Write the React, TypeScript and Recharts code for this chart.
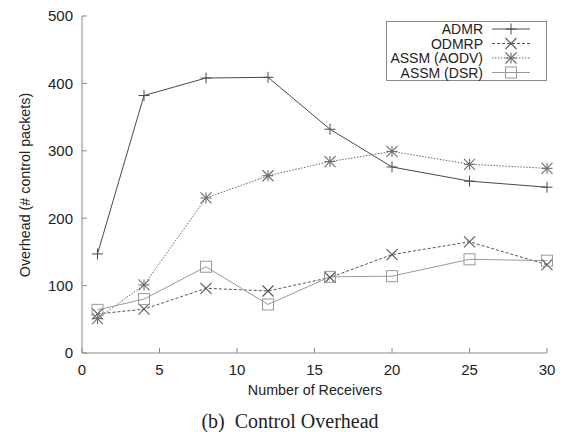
import React from 'react'
import { LineChart, Line, XAxis, YAxis, Legend, Label } from 'recharts'

const receivers = [1, 4, 8, 12, 16, 20, 25, 30]
const admr = [147, 382, 408, 409, 332, 276, 255, 246]
const odmrp = [58, 65, 96, 92, 112, 146, 165, 131]
const assmAodv = [51, 101, 230, 263, 284, 299, 280, 274]
const assmDsr = [64, 80, 128, 72, 113, 114, 139, 137]

const xTicks = [0, 5, 10, 15, 20, 25, 30]
const yTicks = [0, 100, 200, 300, 400, 500]

const data = receivers.map((r, i) => ({
  r,
  admr: admr[i],
  odmrp: odmrp[i],
  aodv: assmAodv[i],
  dsr: assmDsr[i],
}))

const FONT = '"Liberation Sans", Arial, sans-serif'
const FRAME = '#8a8a8a'

type Mark = 'plus' | 'cross' | 'star' | 'square'

function marker(kind: Mark, cx: number, cy: number, color: string, key?: string | number) {
  const s = 5.5
  if (kind === 'plus')
    return (
      <g key={key} stroke={color} strokeWidth={1}>
        <line x1={cx - s} y1={cy} x2={cx + s} y2={cy} />
        <line x1={cx} y1={cy - s} x2={cx} y2={cy + s} />
      </g>
    )
  if (kind === 'cross')
    return (
      <g key={key} stroke={color} strokeWidth={1.1}>
        <line x1={cx - s} y1={cy - s} x2={cx + s} y2={cy + s} />
        <line x1={cx - s} y1={cy + s} x2={cx + s} y2={cy - s} />
      </g>
    )
  if (kind === 'star')
    return (
      <g key={key} stroke={color} strokeWidth={1.1}>
        <line x1={cx - s} y1={cy - s} x2={cx + s} y2={cy + s} />
        <line x1={cx - s} y1={cy + s} x2={cx + s} y2={cy - s} />
        <line x1={cx} y1={cy - s} x2={cx} y2={cy + s} />
        <line x1={cx - s} y1={cy} x2={cx + s} y2={cy} />
      </g>
    )
  return (
    <rect key={key} x={cx - s} y={cy - s} width={2 * s} height={2 * s} fill="none" stroke={color} strokeWidth={1} />
  )
}

const series = [
  { key: 'admr', name: 'ADMR', color: '#4a4a4a', dash: undefined, mark: 'plus' as Mark },
  { key: 'odmrp', name: 'ODMRP', color: '#555555', dash: '3 2', mark: 'cross' as Mark },
  { key: 'aodv', name: 'ASSM (AODV)', color: '#6a6a6a', dash: '1.5 1.5', mark: 'star' as Mark },
  { key: 'dsr', name: 'ASSM (DSR)', color: '#999999', dash: undefined, mark: 'square' as Mark },
]

function LegendBox() {
  return (
    <svg width={161} height={60} style={{ display: 'block' }}>
      <rect x={0.5} y={0.5} width={160} height={59} fill="#fff" stroke={FRAME} />
      {series.map((s, i) => {
        const y = 8 + i * 14.5
        return (
          <g key={s.key}>
            <text x={97} y={y} textAnchor="end" dominantBaseline="central" fontFamily={FONT} fontSize={14} fill="#222">
              {s.name}
            </text>
            <line x1={106} y1={y} x2={144} y2={y} stroke={s.color} strokeDasharray={s.dash} />
            {marker(s.mark, 125, y, s.color)}
          </g>
        )
      })}
    </svg>
  )
}

export default function App() {
  const tickStyle = { fontFamily: FONT, fontSize: 15, fill: '#222' }
  return (
    <div style={{ position: 'absolute', left: 0, top: 0, width: 568, height: 432, background: '#fff' }}>
      <LineChart width={568} height={432} data={data} margin={{ top: 16, right: 21, left: 0, bottom: 49 }}>
        <XAxis
          xAxisId="b"
          dataKey="r"
          type="number"
          domain={[0, 30]}
          ticks={xTicks}
          height={30}
          tickSize={-5}
          tickMargin={16}
          tick={tickStyle}
          stroke={FRAME}
          tickLine={{ stroke: FRAME }}
        >
          <Label
            content={() => (
              <text x={315} y={390} textAnchor="middle" dominantBaseline="central" fontFamily={FONT} fontSize={14.3} fill="#222">
                Number of Receivers
              </text>
            )}
          />
        </XAxis>
        <XAxis
          xAxisId="t"
          orientation="top"
          dataKey="r"
          type="number"
          domain={[0, 30]}
          ticks={xTicks}
          height={0}
          tickSize={-5}
          tick={false}
          stroke={FRAME}
          tickLine={{ stroke: FRAME }}
        />
        <YAxis
          yAxisId="l"
          type="number"
          domain={[0, 500]}
          ticks={yTicks}
          width={82}
          tickSize={-5}
          tickMargin={14}
          tick={tickStyle}
          stroke={FRAME}
          tickLine={{ stroke: FRAME }}
        >
          <Label
            content={() => (
              <text
                x={25}
                y={185}
                transform="rotate(-90 25 185)"
                textAnchor="middle"
                dominantBaseline="central"
                fontFamily={FONT}
                fontSize={14.3}
                fill="#222"
              >
                Overhead (# control packets)
              </text>
            )}
          />
        </YAxis>
        <YAxis
          yAxisId="r"
          orientation="right"
          type="number"
          domain={[0, 500]}
          ticks={yTicks}
          width={0}
          tickSize={-5}
          tick={false}
          stroke={FRAME}
          tickLine={{ stroke: FRAME }}
        />
        <Legend
          layout="horizontal"
          verticalAlign="middle"
          wrapperStyle={{ left: 386, top: 21, width: 161, height: 60 }}
          content={() => <LegendBox />}
        />
        {series.map((s) => (
          <Line
            key={s.key}
            xAxisId="b"
            yAxisId="l"
            dataKey={s.key}
            name={s.name}
            type="linear"
            stroke={s.color}
            strokeWidth={1}
            strokeDasharray={s.dash}
            isAnimationActive={false}
            dot={(p: any) => marker(s.mark, p.cx, p.cy, s.color, `${s.key}-${p.index}`)}
            activeDot={false}
          />
        ))}
      </LineChart>
      <div
        style={{
          position: 'absolute',
          left: 0,
          top: 408,
          width: 580,
          textAlign: 'center',
          fontFamily: '"Liberation Serif", "Times New Roman", serif',
          fontSize: 20,
          lineHeight: '26px',
          color: '#222',
        }}
      >
        (b)&nbsp; Control Overhead
      </div>
    </div>
  )
}
